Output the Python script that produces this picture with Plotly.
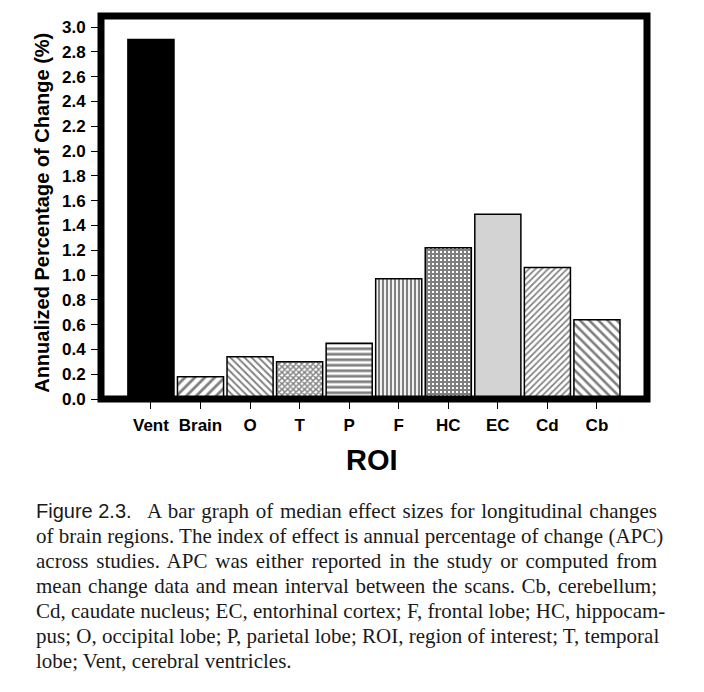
import plotly.graph_objects as go
import json

# ---- data ----
categories = ["Vent", "Brain", "O", "T", "P", "F", "HC", "EC", "Cd", "Cb"]
apc_values = [2.90, 0.18, 0.34, 0.30, 0.45, 0.97, 1.22, 1.49, 1.06, 0.64]
y_tick_vals = [0.0, 0.2, 0.4, 0.6, 0.8, 1.0, 1.2, 1.4, 1.6, 1.8, 2.0, 2.2, 2.4, 2.6, 2.8, 3.0]
y_tick_text = ["%.1f" % v for v in y_tick_vals]

caption_label = "Figure 2.3."
caption_first = "A bar graph of median effect sizes for longitudinal changes"
caption_lines = [
    "of brain regions. The index of effect is annual percentage of change (APC)",
    "across studies. APC was either reported in the study or computed from",
    "mean change data and mean interval between the scans. Cb, cerebellum;",
    "Cd, caudate nucleus; EC, entorhinal cortex; F, frontal lobe; HC, hippocam-",
    "pus; O, occipital lobe; P, parietal lobe; ROI, region of interest; T, temporal",
    "lobe; Vent, cerebral ventricles.",
]

# ---- styles ----
fill_colors = ["black", "white", "white", "white", "white", "white", "white", "#d3d3d3", "white", "white"]
pattern_shapes = ["", "/", "\\", "x", "-", "|", "+", "", "/", "\\"]
pattern_sizes = [8, 7, 5, 4, 5.5, 4, 4, 8, 4.5, 6.5]
pattern_solid = [0.3, 0.4, 0.38, 0.6, 0.5, 0.55, 0.75, 0.3, 0.38, 0.4]

W, H = 704, 692
L, R, T, B = 100.5, 57, 15.5, 293
pw = W - L - R
ph = H - T - B

def px(xpix):
    return (xpix - L) / pw

def py(ypix):
    return (H - B - ypix) / ph

fig = go.Figure()
for i, cat in enumerate(categories):
    fig.add_trace(go.Bar(
        x=[cat], y=[apc_values[i]], width=0.93,
        marker=dict(
            color=fill_colors[i],
            line=dict(color="black", width=1.5),
            pattern=dict(shape=pattern_shapes[i], size=pattern_sizes[i],
                         solidity=pattern_solid[i], fgcolor="black",
                         bgcolor=fill_colors[i], fillmode="overlay"),
        ),
        showlegend=False,
    ))

sans = "Arial, Liberation Sans, sans-serif"
serif = "Times New Roman, Liberation Serif, serif"

fig.update_layout(
    width=W, height=H,
    margin=dict(l=L, r=R, t=T, b=B, autoexpand=False),
    paper_bgcolor="white", plot_bgcolor="white",
    barmode="overlay",
    xaxis=dict(
        range=[-1.008, 10.01], showgrid=False, zeroline=False, showline=False,
        categoryorder="array", categoryarray=categories,
        ticks="outside", ticklen=9, tickwidth=1, tickcolor="black",
        tickfont=dict(family=sans, size=17, color="black", weight="bold"),
        ticklabelstandoff=2,
    ),
    yaxis=dict(
        range=[0, 3.09], showgrid=False, zeroline=False, showline=False,
        tickvals=y_tick_vals, ticktext=y_tick_text,
        ticks="outside", ticklen=9, tickwidth=1, tickcolor="black",
        tickfont=dict(family=sans, size=17, color="black", weight="bold"),
        ticklabelstandoff=2,
    ),
    shapes=[dict(type="rect", xref="paper", yref="paper", x0=0, x1=1, y0=0, y1=1,
                 line=dict(color="black", width=7), layer="above")],
)

ann = []
ann.append(dict(text="Annualized Percentage of Change (%)", textangle=-90,
                xref="paper", yref="paper", x=px(42), y=py(213),
                xanchor="center", yanchor="middle", showarrow=False,
                font=dict(family=sans, size=20, color="black", weight="bold")))
ann.append(dict(text="ROI", xref="paper", yref="paper", x=px(372), y=py(460),
                xanchor="center", yanchor="middle", showarrow=False,
                font=dict(family=sans, size=29, color="black", weight="bold")))

ann.append(dict(text=caption_label, xref="paper", yref="paper", x=px(33), y=py(511),
                xanchor="left", yanchor="middle", showarrow=False,
                font=dict(family=sans, size=20, color="#1a1a1a")))
ann.append(dict(text=caption_first, xref="paper", yref="paper", x=px(145), y=py(511),
                xanchor="left", yanchor="middle", showarrow=False,
                font=dict(family=serif, size=21, color="#1a1a1a")))
for k, txt in enumerate(caption_lines):
    ann.append(dict(text=txt, xref="paper", yref="paper", x=px(33), y=py(536 + 25 * k),
                    xanchor="left", yanchor="middle", showarrow=False,
                    font=dict(family=serif, size=21, color="#1a1a1a")))

fig.update_layout(annotations=ann)

# justify the caption lines (all but the last), like the printed figure
justify_lines = [caption_first] + caption_lines[:-1]
post = """
document.body.style.margin = '0';
try {
  var gd = document.getElementById('{plot_id}');
  var targets = %s;
  var rightEdge = 657;
  gd.querySelectorAll('text.annotation-text').forEach(function(t) {
    var s = t.textContent;
    if (targets.indexOf(s) < 0) return;
    var n = (s.match(/ /g) || []).length;
    if (!n) return;
    var b0 = t.getBoundingClientRect();
    var ws = (rightEdge - b0.right) / n;
    if (ws <= 0) return;
    t.style.wordSpacing = ws + 'px';
    var b1 = t.getBoundingClientRect();
    var dx = b0.left - b1.left;
    var tr = t.getAttribute('transform') || '';
    t.setAttribute('transform', 'translate(' + dx + ',0) ' + tr);
  });
} catch (e) {}
""" % json.dumps(justify_lines)

fig.write_html("out.html", post_script=post, config={"displayModeBar": False})
